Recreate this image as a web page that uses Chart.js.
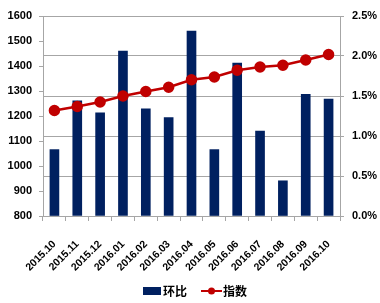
<!DOCTYPE html>
<html>
<head>
<meta charset="utf-8">
<script src="https://cdn.jsdelivr.net/npm/chart.js@4.4.1/dist/chart.umd.min.js"></script>
<style>
html,body{margin:0;padding:0;background:#fff;}
#wrap{width:380px;height:303px;}
</style>
</head>
<body>
<div id="wrap"><canvas id="c" width="380" height="303"></canvas></div>
<script>
const categories = ['2015.10','2015.11','2015.12','2016.01','2016.02','2016.03','2016.04','2016.05','2016.06','2016.07','2016.08','2016.09','2016.10'];
const momValues = [0.83, 1.44, 1.29, 2.06, 1.34, 1.23, 2.31, 0.83, 1.91, 1.06, 0.44, 1.52, 1.46];
const indexValues = [1222, 1238, 1256, 1280, 1298, 1315, 1345, 1356, 1383, 1396, 1403, 1424, 1446];
const leftTicks = [800, 900, 1000, 1100, 1200, 1300, 1400, 1500, 1600];
const rightTicks = [0, 0.5, 1.0, 1.5, 2.0, 2.5];
const seriesNames = ['环比', '指数'];

const NAVY = '#002060';
const RED = '#c00000';
const GRID = '#a6a6a6';
const tickFont = {family: "'Liberation Sans', Arial, sans-serif", size: 11, weight: 'bold'};
const xFont = {family: "'Liberation Sans', Arial, sans-serif", size: 10.5, weight: 'bold'};

function barIcon() {
  const c = document.createElement('canvas');
  c.width = 32; c.height = 10;
  const g = c.getContext('2d');
  g.fillStyle = NAVY;
  g.fillRect(14, 1, 18, 8);
  return c;
}
function lineIcon() {
  const c = document.createElement('canvas');
  c.width = 34; c.height = 10;
  const g = c.getContext('2d');
  g.strokeStyle = RED; g.lineWidth = 2;
  g.beginPath(); g.moveTo(13, 5); g.lineTo(34, 5); g.stroke();
  g.fillStyle = RED;
  g.beginPath(); g.arc(23.5, 5, 3.5, 0, Math.PI * 2); g.fill();
  return c;
}
const icons = [barIcon(), lineIcon()];

new Chart(document.getElementById('c'), {
  data: {
    labels: categories,
    datasets: [
      {
        type: 'bar', label: seriesNames[0], data: momValues, yAxisID: 'yR',
        backgroundColor: NAVY, barThickness: 9, order: 1
      },
      {
        type: 'line', label: seriesNames[1], data: indexValues, yAxisID: 'yL',
        borderColor: RED, backgroundColor: RED, borderWidth: 2.5,
        pointRadius: 4.5, pointBackgroundColor: RED, pointBorderColor: RED,
        tension: 0, order: 0
      }
    ]
  },
  options: {
    responsive: false,
    animation: false,
    events: [],
    layout: {padding: {top: 16, bottom: -4, left: 0, right: 0}},
    plugins: {
      tooltip: {enabled: false},
      legend: {
        position: 'bottom',
        labels: {
          usePointStyle: true,
          pointStyleWidth: 24,
          boxHeight: 10,
          padding: 6,
          color: '#000',
          font: {family: "'Noto Sans CJK SC', sans-serif", size: 12, weight: 'bold'},
          generateLabels: (chart) => chart.data.datasets.map((ds, i) => ({
            text: ds.label, datasetIndex: i, pointStyle: icons[i],
            fillStyle: 'rgba(0,0,0,0)', strokeStyle: 'rgba(0,0,0,0)', lineWidth: 0, hidden: false
          }))
        }
      }
    },
    scales: {
      x: {
        type: 'category',
        offset: true,
        grid: {offset: true, drawOnChartArea: false, drawTicks: true, tickLength: 5, color: GRID},
        border: {color: GRID},
        ticks: {color: '#000', font: xFont, minRotation: 45, maxRotation: 45, padding: 17, autoSkip: false},
        afterFit: (s) => { s.height = 63; }
      },
      yL: {
        position: 'left', min: 800, max: 1600,
        afterBuildTicks: (s) => { s.ticks = leftTicks.map(v => ({value: v})); },
        grid: {drawOnChartArea: false, drawTicks: true, tickLength: 4, color: GRID},
        border: {color: GRID},
        ticks: {color: '#000', font: tickFont, padding: 7, callback: (v) => String(v)},
        afterFit: (s) => { s.width = 43; }
      },
      yR: {
        position: 'right', min: 0, max: 2.5,
        afterBuildTicks: (s) => { s.ticks = rightTicks.map(v => ({value: v})); },
        grid: {drawOnChartArea: true, drawTicks: true, tickLength: 4, color: GRID},
        border: {color: GRID},
        ticks: {color: '#000', font: tickFont, padding: 8, callback: (v) => Number(v).toFixed(1) + '%'},
        afterFit: (s) => { s.width = 40; }
      }
    }
  }
});
</script>
</body>
</html>
